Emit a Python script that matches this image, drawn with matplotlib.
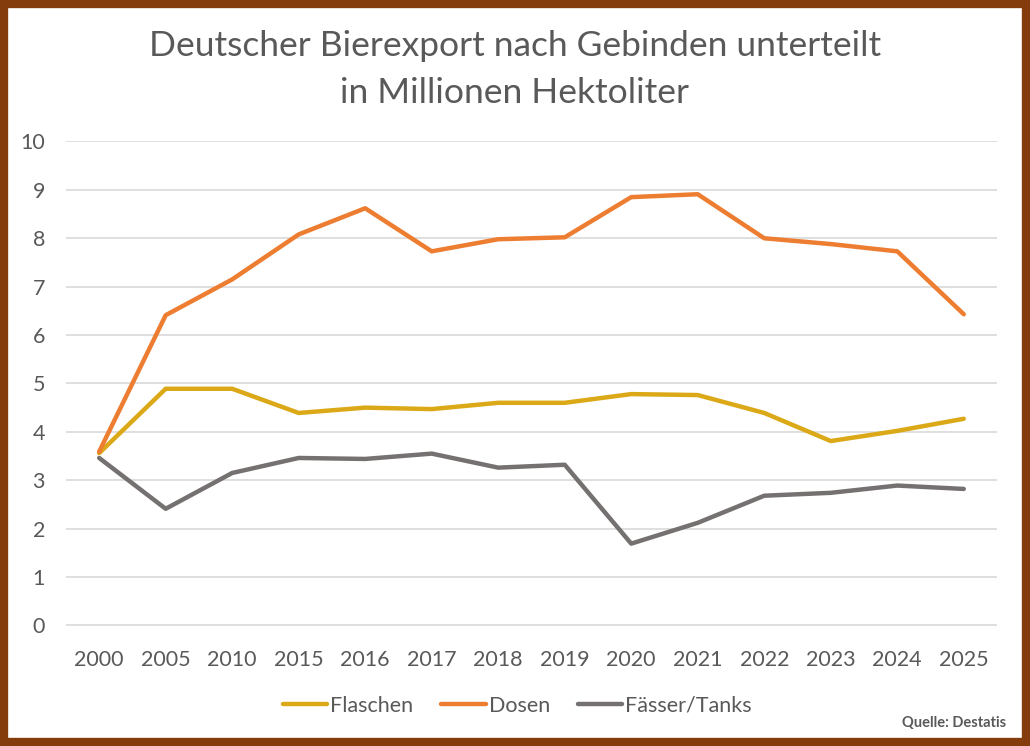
import matplotlib
matplotlib.use("Agg")
import matplotlib.pyplot as plt
from matplotlib.patches import Rectangle

years = ["2000", "2005", "2010", "2015", "2016", "2017", "2018",
         "2019", "2020", "2021", "2022", "2023", "2024", "2025"]
flaschen = [3.56, 4.89, 4.89, 4.39, 4.50, 4.47, 4.60,
            4.60, 4.78, 4.76, 4.39, 3.81, 4.02, 4.27]
dosen = [3.59, 6.41, 7.15, 8.08, 8.62, 7.73, 7.98,
         8.02, 8.85, 8.91, 8.00, 7.88, 7.73, 6.43]
faesser = [3.46, 2.41, 3.15, 3.46, 3.44, 3.55, 3.26,
           3.32, 1.69, 2.12, 2.68, 2.74, 2.89, 2.82]

FONT = ["Lato", "DejaVu Sans"]
GREY = "#595959"
plt.rcParams["font.family"] = FONT

fig = plt.figure(figsize=(10.3, 7.46), dpi=100)
ax = fig.add_axes([0.064, 0.161, 0.904, 0.650])

x = range(len(years))
ax.plot(x, flaschen, color="#DBA917", lw=3.2, label="Flaschen", solid_capstyle="round")
ax.plot(x, dosen, color="#ED7D31", lw=3.2, label="Dosen", solid_capstyle="round")
ax.plot(x, faesser, color="#767171", lw=3.2, label="Fässer/Tanks", solid_capstyle="round")

ax.set_xlim(-0.5, len(years) - 0.5)
ax.set_ylim(-0.01, 10.01)
ax.set_yticks(range(0, 11))
ax.set_xticks(list(x))
ax.set_xticklabels(years)
ax.grid(axis="y", color="#D9D9D9", lw=1.2)
ax.set_axisbelow(True)
for s in ax.spines.values():
    s.set_visible(False)
ax.tick_params(length=0, labelsize=15.5, colors=GREY, pad=17)
ax.tick_params(axis="y", pad=15)

leg = ax.legend(loc="center", bbox_to_anchor=(0.485, -0.165), ncol=3, frameon=False,
                fontsize=15.5, handlelength=2.05, handletextpad=0.15, columnspacing=1.3)
for t in leg.get_texts():
    t.set_color(GREY)

fig.text(0.5, 0.938, "Deutscher Bierexport nach Gebinden unterteilt",
         ha="center", va="center", fontsize=25.5, color=GREY)
fig.text(0.5, 0.875, "in Millionen Hektoliter",
         ha="center", va="center", fontsize=25.5, color=GREY)
fig.text(0.977, 0.031, "Quelle: Destatis", ha="right", va="center",
         fontsize=10.5, color=GREY, fontweight="bold")

fig.patches.append(Rectangle((0.0035, 0.005), 0.993, 0.99, transform=fig.transFigure,
                             fill=False, edgecolor="#843C0C", lw=6))

fig.savefig("out.png", dpi=100)
